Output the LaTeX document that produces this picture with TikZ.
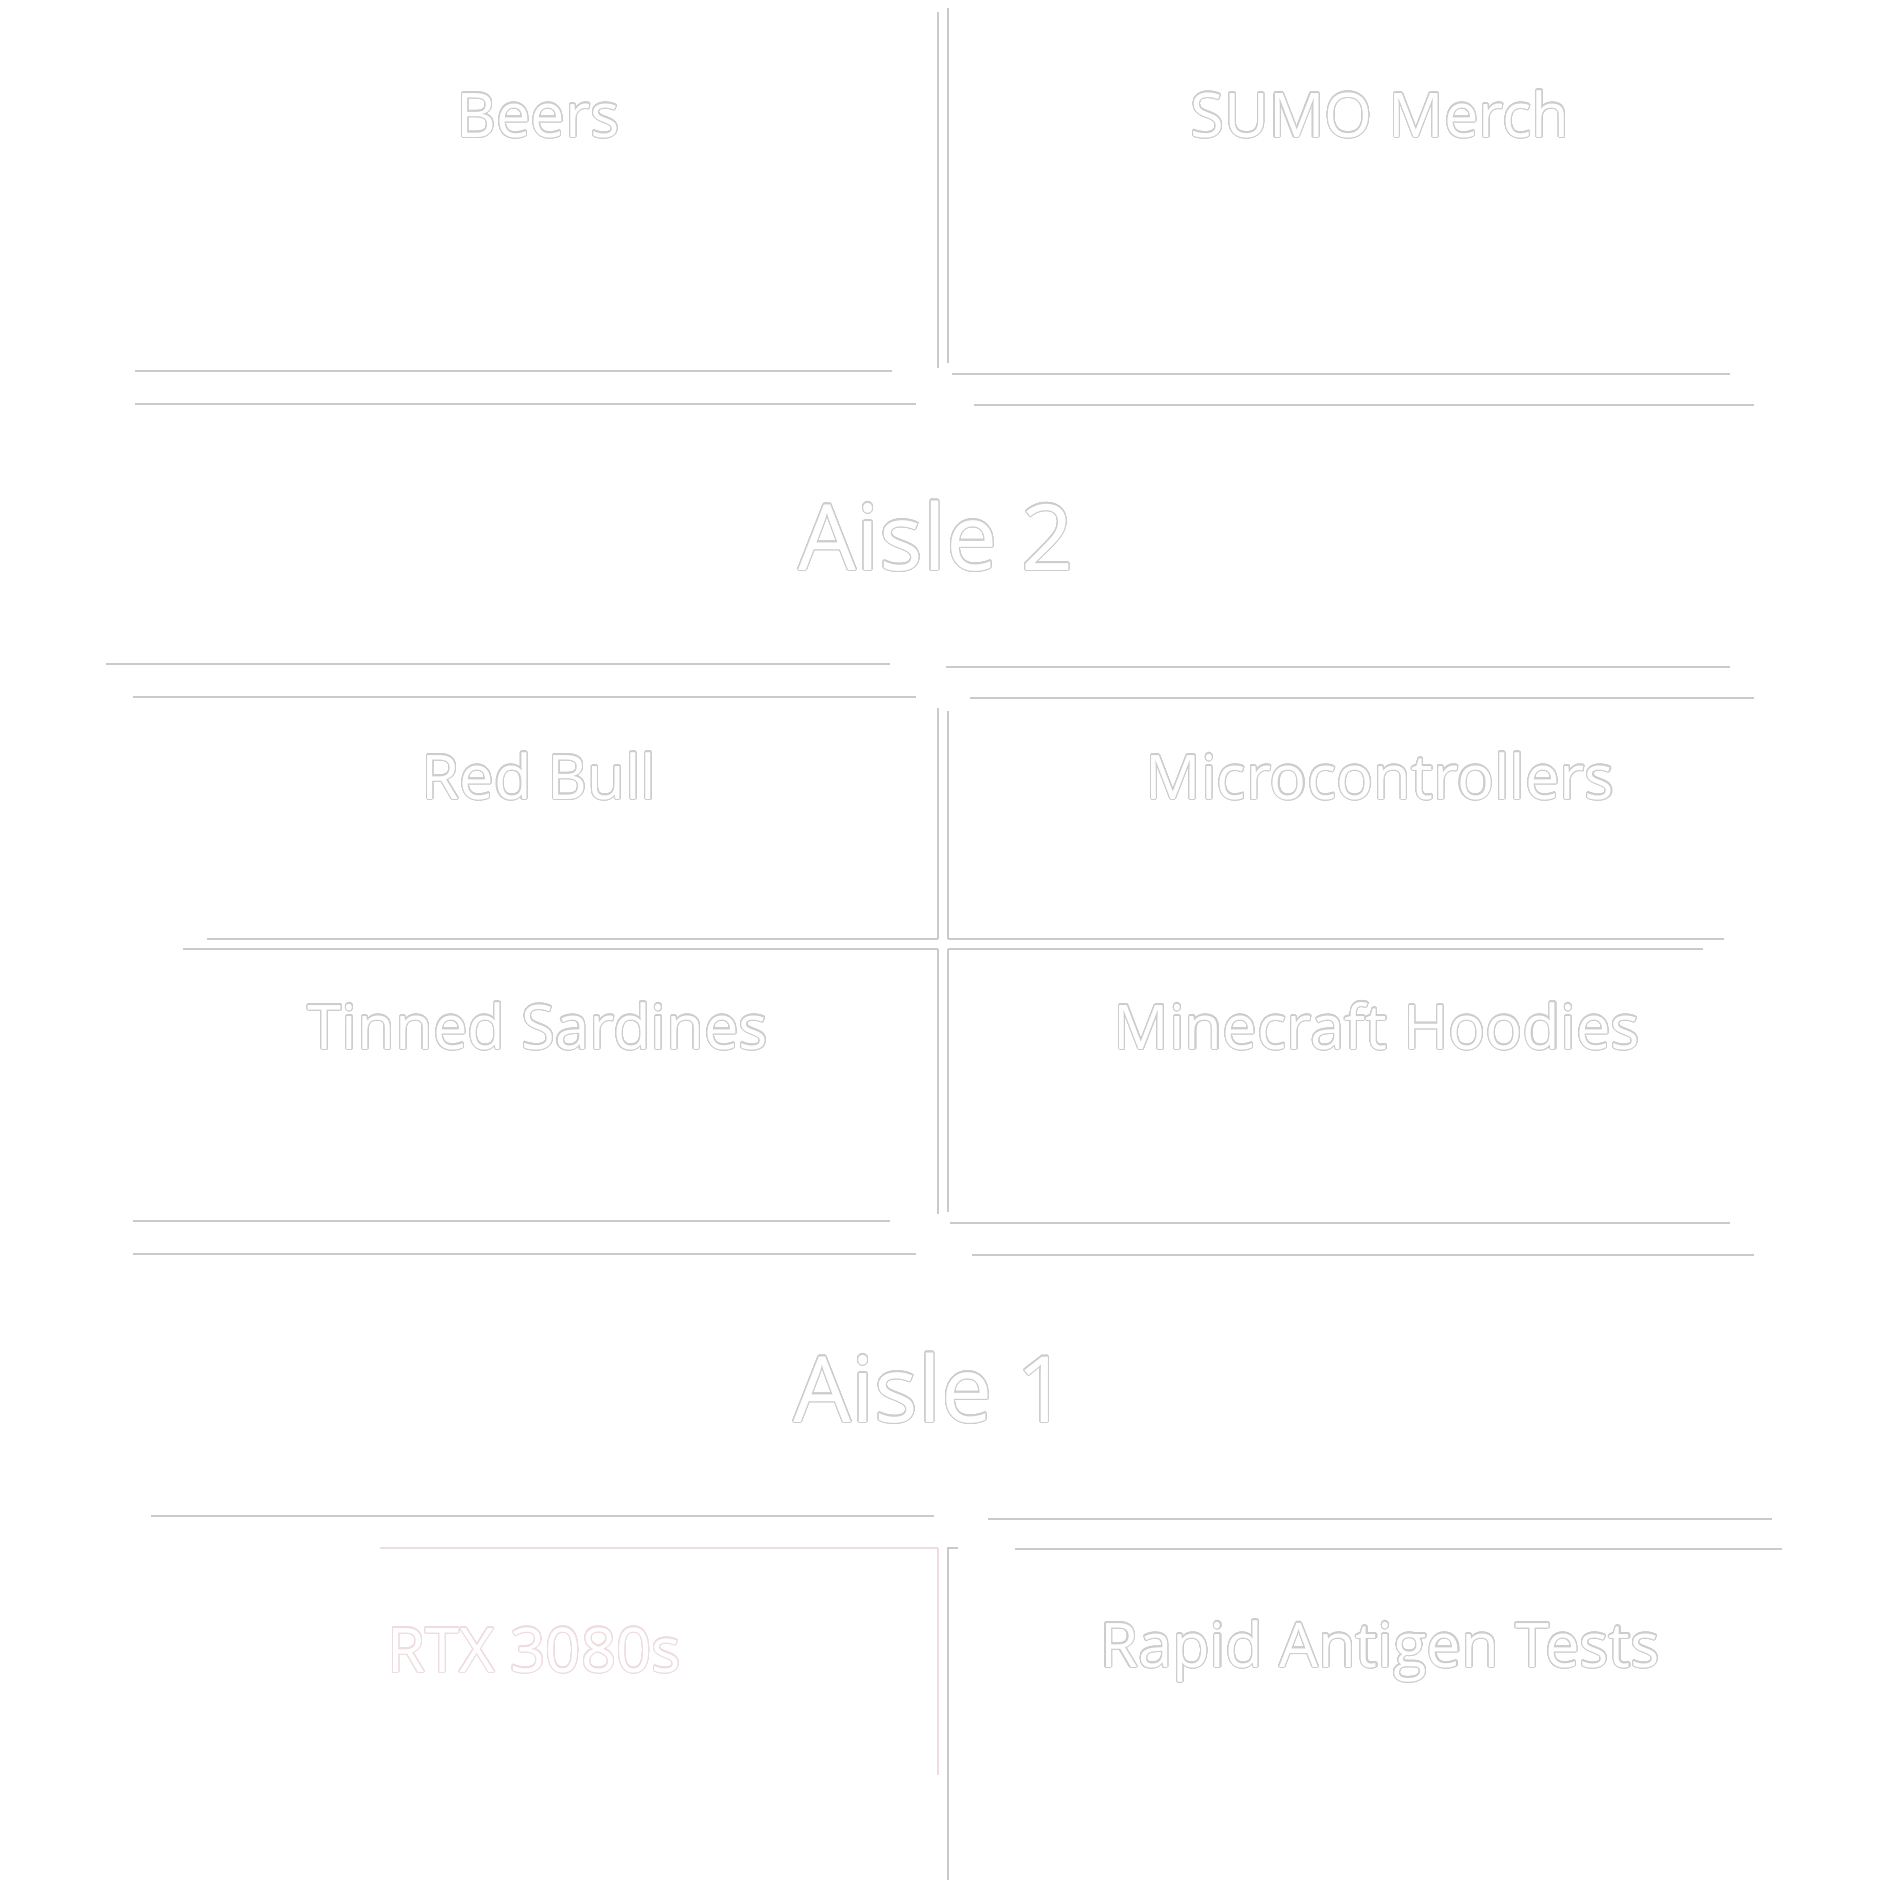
\documentclass[tikz,border=0pt]{standalone}
\usepackage{fontspec}
\setmainfont{Open Sans}
\usepackage{xcolor}
\usepackage{contour}
\usepackage{tikz}
\definecolor{ShelfLine}{HTML}{CACACA}
\definecolor{ShelfText}{HTML}{CDCDCD}
\definecolor{ShelfPink}{HTML}{EEDCDF}
\contourlength{0.3pt}
\contournumber{32}
\newcommand{\outl}[2][ShelfText]{\contour{#1}{\textcolor{white}{#2}}}
\tikzset{
  shelf/.style={ShelfLine,line width=0.016cm},
  post/.style={ShelfLine,line width=0.013cm},
  shelflbl/.style={anchor=base,inner sep=0pt,font=\fontsize{17.5}{17.5}\selectfont},
  aislelbl/.style={anchor=base,inner sep=0pt,font=\fontsize{26}{26}\selectfont}
}

\begin{document}
\begin{tikzpicture}[x=.01cm,y=-.01cm]
\useasboundingbox[fill=white] (0,0) rectangle (1890,1890);
% top row
\draw[post] (938,12)--(938,368);\draw[post] (948,8)--(948,363);
\draw[shelf] (135,371)--(892,371);\draw[shelf] (135,404)--(916,404);
\draw[shelf] (952,374)--(1730,374);\draw[shelf] (974,405)--(1754,405);
\node[shelflbl] (beers) at (538,137) {\outl{Beers}};
\node[shelflbl] (sumo) at (1380,137) {\outl{SUMO Merch}};
% aisle 2
\node[aislelbl] (aisle2) at (936,570) {\outl{Aisle 2}};
\draw[shelf] (106,664)--(890,664);\draw[shelf] (133,697)--(916,697);
\draw[shelf] (946,667)--(1730,667);\draw[shelf] (970,698)--(1754,698);
% middle block
\draw[post] (938,708)--(938,939);\draw[post] (948,711)--(948,939);
\draw[post] (938,949)--(938,1214);\draw[post] (948,949)--(948,1212);
\draw[shelf] (207,939)--(938,939);\draw[shelf] (948,939)--(1724,939);
\draw[shelf] (183,949)--(938,949);\draw[shelf] (948,949)--(1703,949);
\node[shelflbl] (redbull) at (539,799) {\outl{Red Bull}};
\node[shelflbl] (micro) at (1380,799) {\outl{Microcontrollers}};
\node[shelflbl] (sardines) at (538,1049) {\outl{Tinned Sardines}};
\node[shelflbl] (hoodies) at (1377,1049) {\outl{Minecraft Hoodies}};
\draw[shelf] (133,1221)--(890,1221);\draw[shelf] (133,1254)--(916,1254);
\draw[shelf] (950,1223)--(1730,1223);\draw[shelf] (972,1255)--(1754,1255);
% aisle 1
\node[aislelbl] (aisle1) at (931,1422) {\outl{Aisle 1}};
\draw[shelf] (151,1516)--(934,1516);\draw[shelf] (988,1519)--(1772,1519);
\draw[shelf,ShelfPink] (380,1548)--(938,1548);\draw[shelf] (1015,1549)--(1782,1549);
% bottom row
\draw[post,ShelfPink] (938,1548)--(938,1775);
\draw[post] (958,1548)--(948,1548)--(948,1880);
\node[shelflbl] (rtx) at (534,1672) {\outl[ShelfPink]{RTX 3080s}};
\node[shelflbl] (rapid) at (1380,1667) {\outl{Rapid Antigen Tests}};
\end{tikzpicture}
\end{document}
